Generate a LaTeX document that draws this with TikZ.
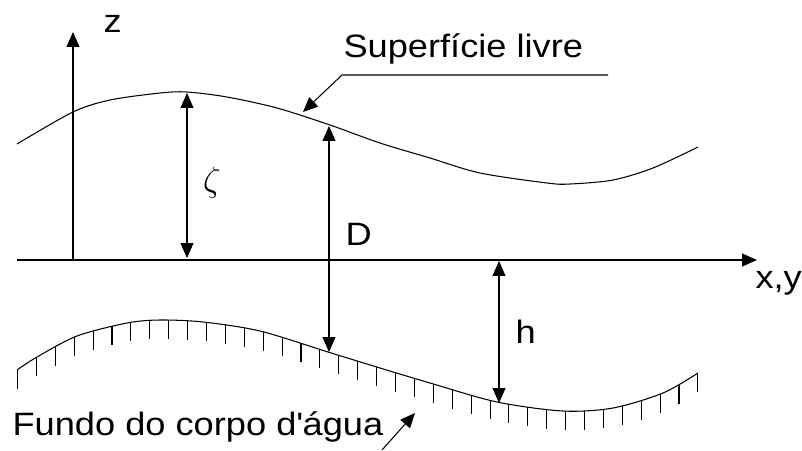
\documentclass[tikz,border=0pt]{standalone}
\usepackage{fontspec}
\setmainfont{Liberation Sans}[FakeStretch=1.12]
\usetikzlibrary{arrows.meta, intersections}

\tikzset{
    txt/.style={font=\fontsize{23}{28}\selectfont, inner sep=0pt}
}

\begin{document}
\begin{tikzpicture}[x=0.025cm, y=-0.025cm, line width=0.75pt,
    >={Triangle[length=0.37cm, width=0.32cm]}]
    % Fix the frame
    \useasboundingbox (0,0) rectangle (802,450);

    % Define the main points
    \coordinate (origin) at (17,260);
    \coordinate (xEnd) at (757,260);
    \coordinate (zFoot) at (73,260);
    \coordinate (zTop) at (73,32);

    % Draw axes
    \draw[->] (origin) -- (xEnd);
    \draw[->] (zFoot) -- (zTop);
    \node[txt, anchor=base west] (xLabel) at (755,288) {x,y};
    \node[txt, anchor=base west] (zLabel) at (103,32) {z};

    % Draw free surface
    \draw plot[smooth] coordinates {(17,144) (73,112) (110,100) (160,93) (187,92)
        (227,97) (277,108) (330,125) (380,143) (430,158) (480,173) (547,183)
        (570,184) (613,180) (653,168) (698,147)};

    % Draw bottom with hatching
    \draw[name path=bedLine] plot[smooth] coordinates {(17,370) (37,357) (77,336)
        (127,323) (160,320) (203,322) (260,331) (328,352) (380,368) (430,383)
        (497,402) (563,411) (613,408) (663,393) (698,373)};
    \foreach \i in {0,...,36} {
        \pgfmathsetmacro{\tx}{17.5+18.9*\i}
        \path[name path=vLine] (\tx,300) -- (\tx,440);
        \draw[name intersections={of=bedLine and vLine}] (intersection-1) -- ++(0,19);
    }

    % Elevation zeta
    \coordinate (zetaTop) at (187,93);
    \coordinate (zetaBot) at (187,258);
    \draw[<->] (zetaTop) -- (zetaBot);
    \node[inner sep=0pt, font=\fontsize{25}{30}\selectfont] (zetaLabel) at (212,183) {$\zeta$};

    % Total depth D
    \coordinate (dTop) at (329,126);
    \coordinate (dBot) at (329,352);
    \draw[<->] (dTop) -- (dBot);
    \node[txt, anchor=base west] (dLabel) at (345,245) {D};

    % Depth h
    \coordinate (hTop) at (499,261);
    \coordinate (hBot) at (499,403);
    \draw[<->] (hTop) -- (hBot);
    \node[txt, anchor=base west] (hLabel) at (515,343) {h};

    % Surface label and leader
    \node[txt, anchor=base west] (surfLabel) at (343,57) {Superfície livre};
    \coordinate (surfEnd) at (608,75);
    \coordinate (surfKnee) at (342,75);
    \coordinate (surfTip) at (303,112);
    \draw[->] (surfEnd) -- (surfKnee) -- (surfTip);

    % Bottom label and leader
    \node[txt, anchor=base west] (bedLabel) at (12,435) {Fundo do corpo d\textquotesingle água};
    \coordinate (bedTail) at (382,450);
    \coordinate (bedTip) at (415,413);
    \draw[->] (bedTail) -- (bedTip);
\end{tikzpicture}
\end{document}
